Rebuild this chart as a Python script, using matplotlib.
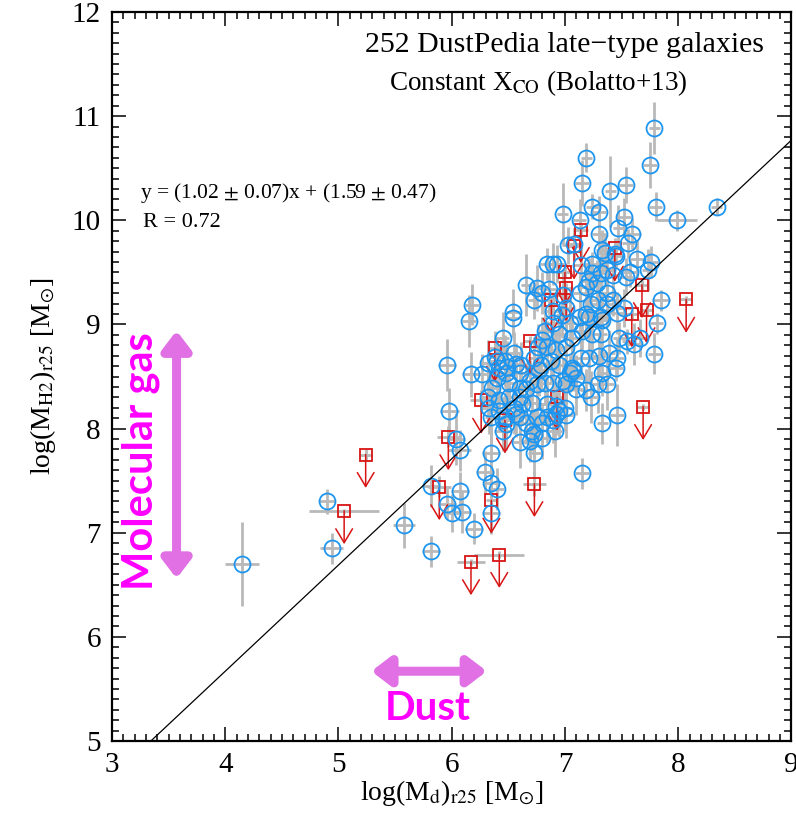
import numpy as np
import matplotlib
matplotlib.use('Agg')
from matplotlib import pyplot as plt
from matplotlib.ticker import MultipleLocator

plt.rcParams['font.family'] = 'Liberation Serif'
plt.rcParams['mathtext.fontset'] = 'stix'

# detected galaxies (blue circles)
det_x = [7.79, 7.75, 7.19, 7.15, 7.54, 7.40, 7.80, 7.99, 8.34, 6.98,
         7.13, 7.24, 7.30, 7.52, 7.47, 7.59, 7.30, 7.08, 7.56, 7.35,
         7.44, 6.84, 6.89, 6.93, 7.14, 7.24, 7.64, 7.76, 7.73, 7.57,
         7.32, 7.37, 7.45, 6.66, 6.75, 6.80, 6.86, 6.73, 6.98, 7.13,
         7.19, 7.28, 7.37, 7.23, 7.29, 7.42, 7.52, 7.85, 6.18, 6.15,
         6.54, 6.54, 6.45, 7.81, 7.79, 7.48, 7.55, 7.61, 7.66, 7.45,
         7.39, 7.30, 7.23, 7.33, 7.46, 7.15, 7.37, 7.29, 7.01, 7.10,
         7.06, 7.14, 7.21, 7.32, 7.21, 7.13, 7.04, 6.97, 6.89, 6.89,
         6.82, 6.95, 7.06, 7.15, 7.24, 7.32, 7.01, 6.92, 6.84, 6.76,
         6.73, 6.79, 6.88, 6.95, 7.04, 6.98, 6.89, 6.82, 6.75, 6.66,
         6.60, 6.51, 6.55, 6.62, 6.71, 6.84, 6.92, 7.00, 7.10, 7.19,
         6.48, 6.40, 6.36, 6.32, 6.33, 6.42, 6.48, 6.60, 6.66, 6.75,
         6.84, 6.92, 7.01, 6.91, 6.80, 6.73, 6.60, 6.45, 6.45, 6.35,
         6.69, 6.73, 6.35, 6.29, 6.35, 6.40, 6.07, 5.98, 5.96, 6.17,
         6.27, 6.04, 6.07, 6.40, 6.57, 6.47, 6.51, 6.60, 5.82, 5.58,
         5.82, 5.96, 6.00, 6.09, 6.20, 6.35, 4.90, 4.94, 4.15, 6.32,
         6.38, 6.55, 6.61, 6.49, 7.03, 7.46, 7.37, 7.33, 7.01, 7.19,
         7.46, 7.07, 7.33, 7.24, 7.42, 7.21, 7.54, 7.33, 6.80, 6.77,
         6.60, 6.42, 6.42, 6.69, 6.57, 6.48, 6.80, 6.89, 6.95, 6.71]
det_y = [10.89, 10.53, 10.60, 10.36, 10.34, 10.28, 10.13, 10.00, 10.13, 10.06,
         10.00, 10.13, 10.08, 10.03, 9.93, 9.87, 9.87, 9.77, 9.78, 9.69,
         9.68, 9.58, 9.58, 9.58, 9.57, 9.58, 9.63, 9.60, 9.52, 9.50,
         9.49, 9.52, 9.66, 9.38, 9.35, 9.30, 9.34, 9.23, 9.28, 9.30,
         9.36, 9.40, 9.30, 9.20, 9.23, 9.23, 9.16, 9.23, 9.19, 9.03,
         9.12, 9.06, 8.87, 9.01, 8.72, 8.87, 8.84, 8.81, 8.87, 8.58,
         8.73, 8.70, 8.30, 8.05, 8.13, 7.57, 8.43, 8.43, 8.43, 8.49,
         8.58, 8.68, 8.68, 9.07, 9.07, 9.07, 9.01, 9.09, 9.13, 9.01,
         8.94, 8.91, 8.87, 8.94, 8.91, 8.91, 8.78, 8.75, 8.78, 8.78,
         8.68, 8.61, 8.65, 8.61, 8.53, 8.46, 8.44, 8.44, 8.43, 8.38,
         8.39, 8.30, 8.20, 8.24, 8.25, 8.24, 8.22, 8.20, 8.38, 8.37,
         8.53, 8.49, 8.39, 8.30, 8.20, 8.17, 8.11, 8.11, 8.05, 8.11,
         8.11, 8.14, 8.13, 7.98, 8.05, 7.95, 7.87, 7.98, 8.08, 8.11,
         7.88, 7.77, 7.77, 7.58, 7.48, 7.42, 7.40, 8.17, 8.61, 8.52,
         8.52, 7.90, 7.79, 8.65, 8.62, 8.65, 8.44, 8.30, 7.45, 7.07,
         6.82, 7.28, 7.19, 7.20, 7.04, 7.19, 7.30, 6.85, 6.70, 8.63,
         8.69, 8.73, 8.61, 8.59, 9.76, 9.11, 9.20, 9.04, 9.16, 9.10,
         8.68, 8.56, 8.53, 9.49, 9.47, 9.42, 9.46, 9.71, 8.85, 8.56,
         8.53, 8.58, 8.27, 8.46, 8.14, 8.04, 7.91, 8.08, 8.17, 7.98]
det_xerr = [0.05, 0.06, 0.05, 0.06, 0.06, 0.05, 0.06, 0.18, 0.05, 0.05,
            0.06, 0.05, 0.06, 0.06, 0.05, 0.08, 0.06, 0.05, 0.06, 0.05,
            0.06, 0.06, 0.05, 0.06, 0.06, 0.08, 0.06, 0.06, 0.05, 0.06,
            0.06, 0.05, 0.06, 0.05, 0.06, 0.08, 0.06, 0.06, 0.05, 0.06,
            0.05, 0.06, 0.06, 0.05, 0.06, 0.06, 0.06, 0.08, 0.06, 0.06,
            0.06, 0.05, 0.06, 0.06, 0.06, 0.06, 0.05, 0.06, 0.06, 0.06,
            0.05, 0.06, 0.06, 0.05, 0.06, 0.06, 0.06, 0.05, 0.06, 0.06,
            0.05, 0.06, 0.06, 0.06, 0.05, 0.06, 0.06, 0.05, 0.06, 0.06,
            0.06, 0.05, 0.06, 0.06, 0.06, 0.05, 0.06, 0.06, 0.05, 0.06,
            0.06, 0.06, 0.05, 0.06, 0.06, 0.05, 0.06, 0.06, 0.06, 0.05,
            0.06, 0.06, 0.05, 0.06, 0.06, 0.06, 0.05, 0.06, 0.06, 0.06,
            0.06, 0.08, 0.06, 0.06, 0.08, 0.06, 0.06, 0.06, 0.05, 0.06,
            0.06, 0.05, 0.06, 0.06, 0.06, 0.05, 0.06, 0.08, 0.06, 0.06,
            0.06, 0.06, 0.08, 0.08, 0.06, 0.06, 0.08, 0.08, 0.08, 0.08,
            0.08, 0.08, 0.10, 0.06, 0.06, 0.06, 0.06, 0.06, 0.08, 0.10,
            0.08, 0.08, 0.08, 0.08, 0.08, 0.08, 0.07, 0.10, 0.15, 0.06,
            0.06, 0.06, 0.06, 0.06, 0.06, 0.06, 0.06, 0.06, 0.06, 0.06,
            0.06, 0.06, 0.06, 0.06, 0.06, 0.06, 0.06, 0.06, 0.06, 0.06,
            0.06, 0.06, 0.06, 0.06, 0.06, 0.06, 0.06, 0.06, 0.06, 0.06]
det_yerr = [0.25, 0.22, 0.14, 0.22, 0.17, 0.34, 0.14, 0.10, 0.08, 0.30,
            0.20, 0.12, 0.15, 0.18, 0.22, 0.15, 0.20, 0.16, 0.14, 0.18,
            0.15, 0.15, 0.20, 0.18, 0.22, 0.12, 0.18, 0.15, 0.20, 0.14,
            0.18, 0.22, 0.12, 0.30, 0.22, 0.20, 0.25, 0.18, 0.25, 0.20,
            0.15, 0.22, 0.18, 0.20, 0.25, 0.15, 0.18, 0.10, 0.20, 0.25,
            0.22, 0.18, 0.25, 0.10, 0.20, 0.15, 0.12, 0.20, 0.18, 0.12,
            0.22, 0.20, 0.25, 0.20, 0.30, 0.15, 0.25, 0.28, 0.20, 0.22,
            0.18, 0.20, 0.25, 0.18, 0.22, 0.20, 0.25, 0.22, 0.18, 0.20,
            0.25, 0.20, 0.22, 0.18, 0.20, 0.25, 0.22, 0.20, 0.25, 0.22,
            0.20, 0.25, 0.22, 0.20, 0.18, 0.22, 0.25, 0.20, 0.22, 0.25,
            0.20, 0.22, 0.25, 0.20, 0.22, 0.25, 0.20, 0.22, 0.25, 0.20,
            0.22, 0.25, 0.20, 0.22, 0.25, 0.20, 0.22, 0.25, 0.20, 0.22,
            0.25, 0.20, 0.22, 0.25, 0.20, 0.22, 0.25, 0.20, 0.22, 0.25,
            0.20, 0.22, 0.25, 0.20, 0.22, 0.20, 0.18, 0.22, 0.25, 0.22,
            0.20, 0.25, 0.20, 0.22, 0.20, 0.25, 0.22, 0.20, 0.20, 0.22,
            0.15, 0.15, 0.18, 0.20, 0.15, 0.20, 0.12, 0.15, 0.40, 0.22,
            0.25, 0.20, 0.22, 0.25, 0.18, 0.20, 0.22, 0.25, 0.20, 0.22,
            0.18, 0.20, 0.22, 0.18, 0.20, 0.22, 0.18, 0.20, 0.22, 0.25,
            0.20, 0.22, 0.25, 0.20, 0.22, 0.25, 0.20, 0.22, 0.25, 0.20]

# upper limits (red squares)
lim_x = [5.24, 5.05, 5.97, 5.89, 6.17, 6.42, 6.35, 6.73, 6.26, 6.47, 7.69, 8.07,
         7.72, 7.59, 7.68, 7.00, 7.08, 7.14, 6.88, 6.69, 6.38, 7.44, 6.93, 7.01]
lim_y = [7.75, 7.21, 7.92, 7.44, 6.72, 6.79, 7.31, 7.47, 8.27, 8.08, 8.21, 9.24,
         9.14, 9.10, 9.38, 9.50, 9.75, 9.91, 9.23, 8.84, 8.77, 9.73, 8.30, 9.35]
lim_xerr = [0.06, 0.31, 0.10, 0.10, 0.12, 0.22, 0.05, 0.10, 0.10, 0.08, 0.05, 0.05,
            0.06, 0.06, 0.06, 0.06, 0.06, 0.06, 0.06, 0.06, 0.06, 0.06, 0.06, 0.06]
lim_yerr = [0.05, 0.02, 0.10, 0.10, 0.03, 0.03, 0.15, 0.12, 0.10, 0.10, 0.03, 0.03,
            0.05, 0.05, 0.05, 0.05, 0.05, 0.05, 0.05, 0.05, 0.05, 0.05, 0.05, 0.05]

slope, intercept = 1.02, 1.59

fig = plt.figure(figsize=(7.96, 8.16), dpi=100)
ax = fig.add_axes([0.1407, 0.0919, 0.8536, 0.8934])

blue = '#1e96f0'
red = '#d81414'
grey = '#b9b9b9'

ax.errorbar(det_x, det_y, xerr=det_xerr, yerr=det_yerr, fmt='none',
            ecolor=grey, elinewidth=2.0, capsize=0, zorder=1)
ax.errorbar(lim_x, lim_y, xerr=lim_xerr, yerr=lim_yerr, fmt='none',
            ecolor=grey, elinewidth=2.0, capsize=0, zorder=1)

for x, y in zip(lim_x, lim_y):
    ax.annotate('', xy=(x, y - 0.32), xytext=(x, y),
                arrowprops=dict(arrowstyle='->,head_length=0.5,head_width=0.3',
                                color=red, lw=1.1, shrinkA=0, shrinkB=0,
                                mutation_scale=20), zorder=2)
ax.plot(lim_x, lim_y, ls='none', marker='s', ms=8.5, mfc='none', mec=red, mew=1.3, zorder=3)
ax.plot(det_x, det_y, ls='none', marker='o', ms=11.5, mfc='none', mec=blue, mew=1.3, zorder=4)

xl = np.array([3, 9])
ax.plot(xl, slope * xl + intercept, color='black', lw=0.9, zorder=5)

ax.set_xlim(3, 9)
ax.set_ylim(5, 12)
ax.xaxis.set_major_locator(MultipleLocator(1))
ax.xaxis.set_minor_locator(MultipleLocator(0.1))
ax.yaxis.set_major_locator(MultipleLocator(1))
ax.yaxis.set_minor_locator(MultipleLocator(0.1))
ax.tick_params(which='both', direction='in', top=True, right=True, width=1.1)
ax.tick_params(which='major', length=10, labelsize=21, pad=8)
ax.tick_params(which='minor', length=5)
for s in ax.spines.values():
    s.set_linewidth(1.6)

ax.set_xlabel(r'log(M$_{\rm d}$)$_{\rm r25}$ [M$_{\odot}$]', fontsize=20, labelpad=0)
ax.set_ylabel(r'log(M$_{\rm H2}$)$_{\rm r25}$ [M$_{\odot}$]', fontsize=20, labelpad=10)

ax.text(5.23, 11.68, '252 DustPedia late\u2212type galaxies', fontsize=21.5, va='center')
ax.text(5.45, 11.32, r'Constant X$_{\rm CO}$ (Bolatto+13)', fontsize=19.5, va='center')
ax.text(3.25, 10.26, r'y = (1.02 $\pm$ 0.07)x + (1.59 $\pm$ 0.47)', fontsize=15.5, va='center')
ax.text(3.27, 9.98, 'R = 0.72', fontsize=16, va='center')

mag = '#ff00ff'
arrow_col = '#e070e4'
arrow_style = '<|-|>,head_length=0.55,head_width=0.42'
ax.annotate('', xy=(3.57, 8.94), xytext=(3.57, 6.56),
            arrowprops=dict(arrowstyle=arrow_style, color=arrow_col,
                            lw=6.5, shrinkA=0, shrinkB=0, mutation_scale=20))
ax.annotate('', xy=(6.31, 5.67), xytext=(5.29, 5.67),
            arrowprops=dict(arrowstyle=arrow_style, color=arrow_col,
                            lw=6.5, shrinkA=0, shrinkB=0, mutation_scale=20))
ax.text(3.25, 7.69, 'Molecular gas', rotation=90, fontsize=30, fontweight='bold',
        color=mag, family='Lato', ha='center', va='center')
ax.text(5.79, 5.31, 'Dust', fontsize=29, fontweight='bold', color=mag,
        family='Lato', ha='center', va='center')

fig.savefig('out.png', dpi=100)
